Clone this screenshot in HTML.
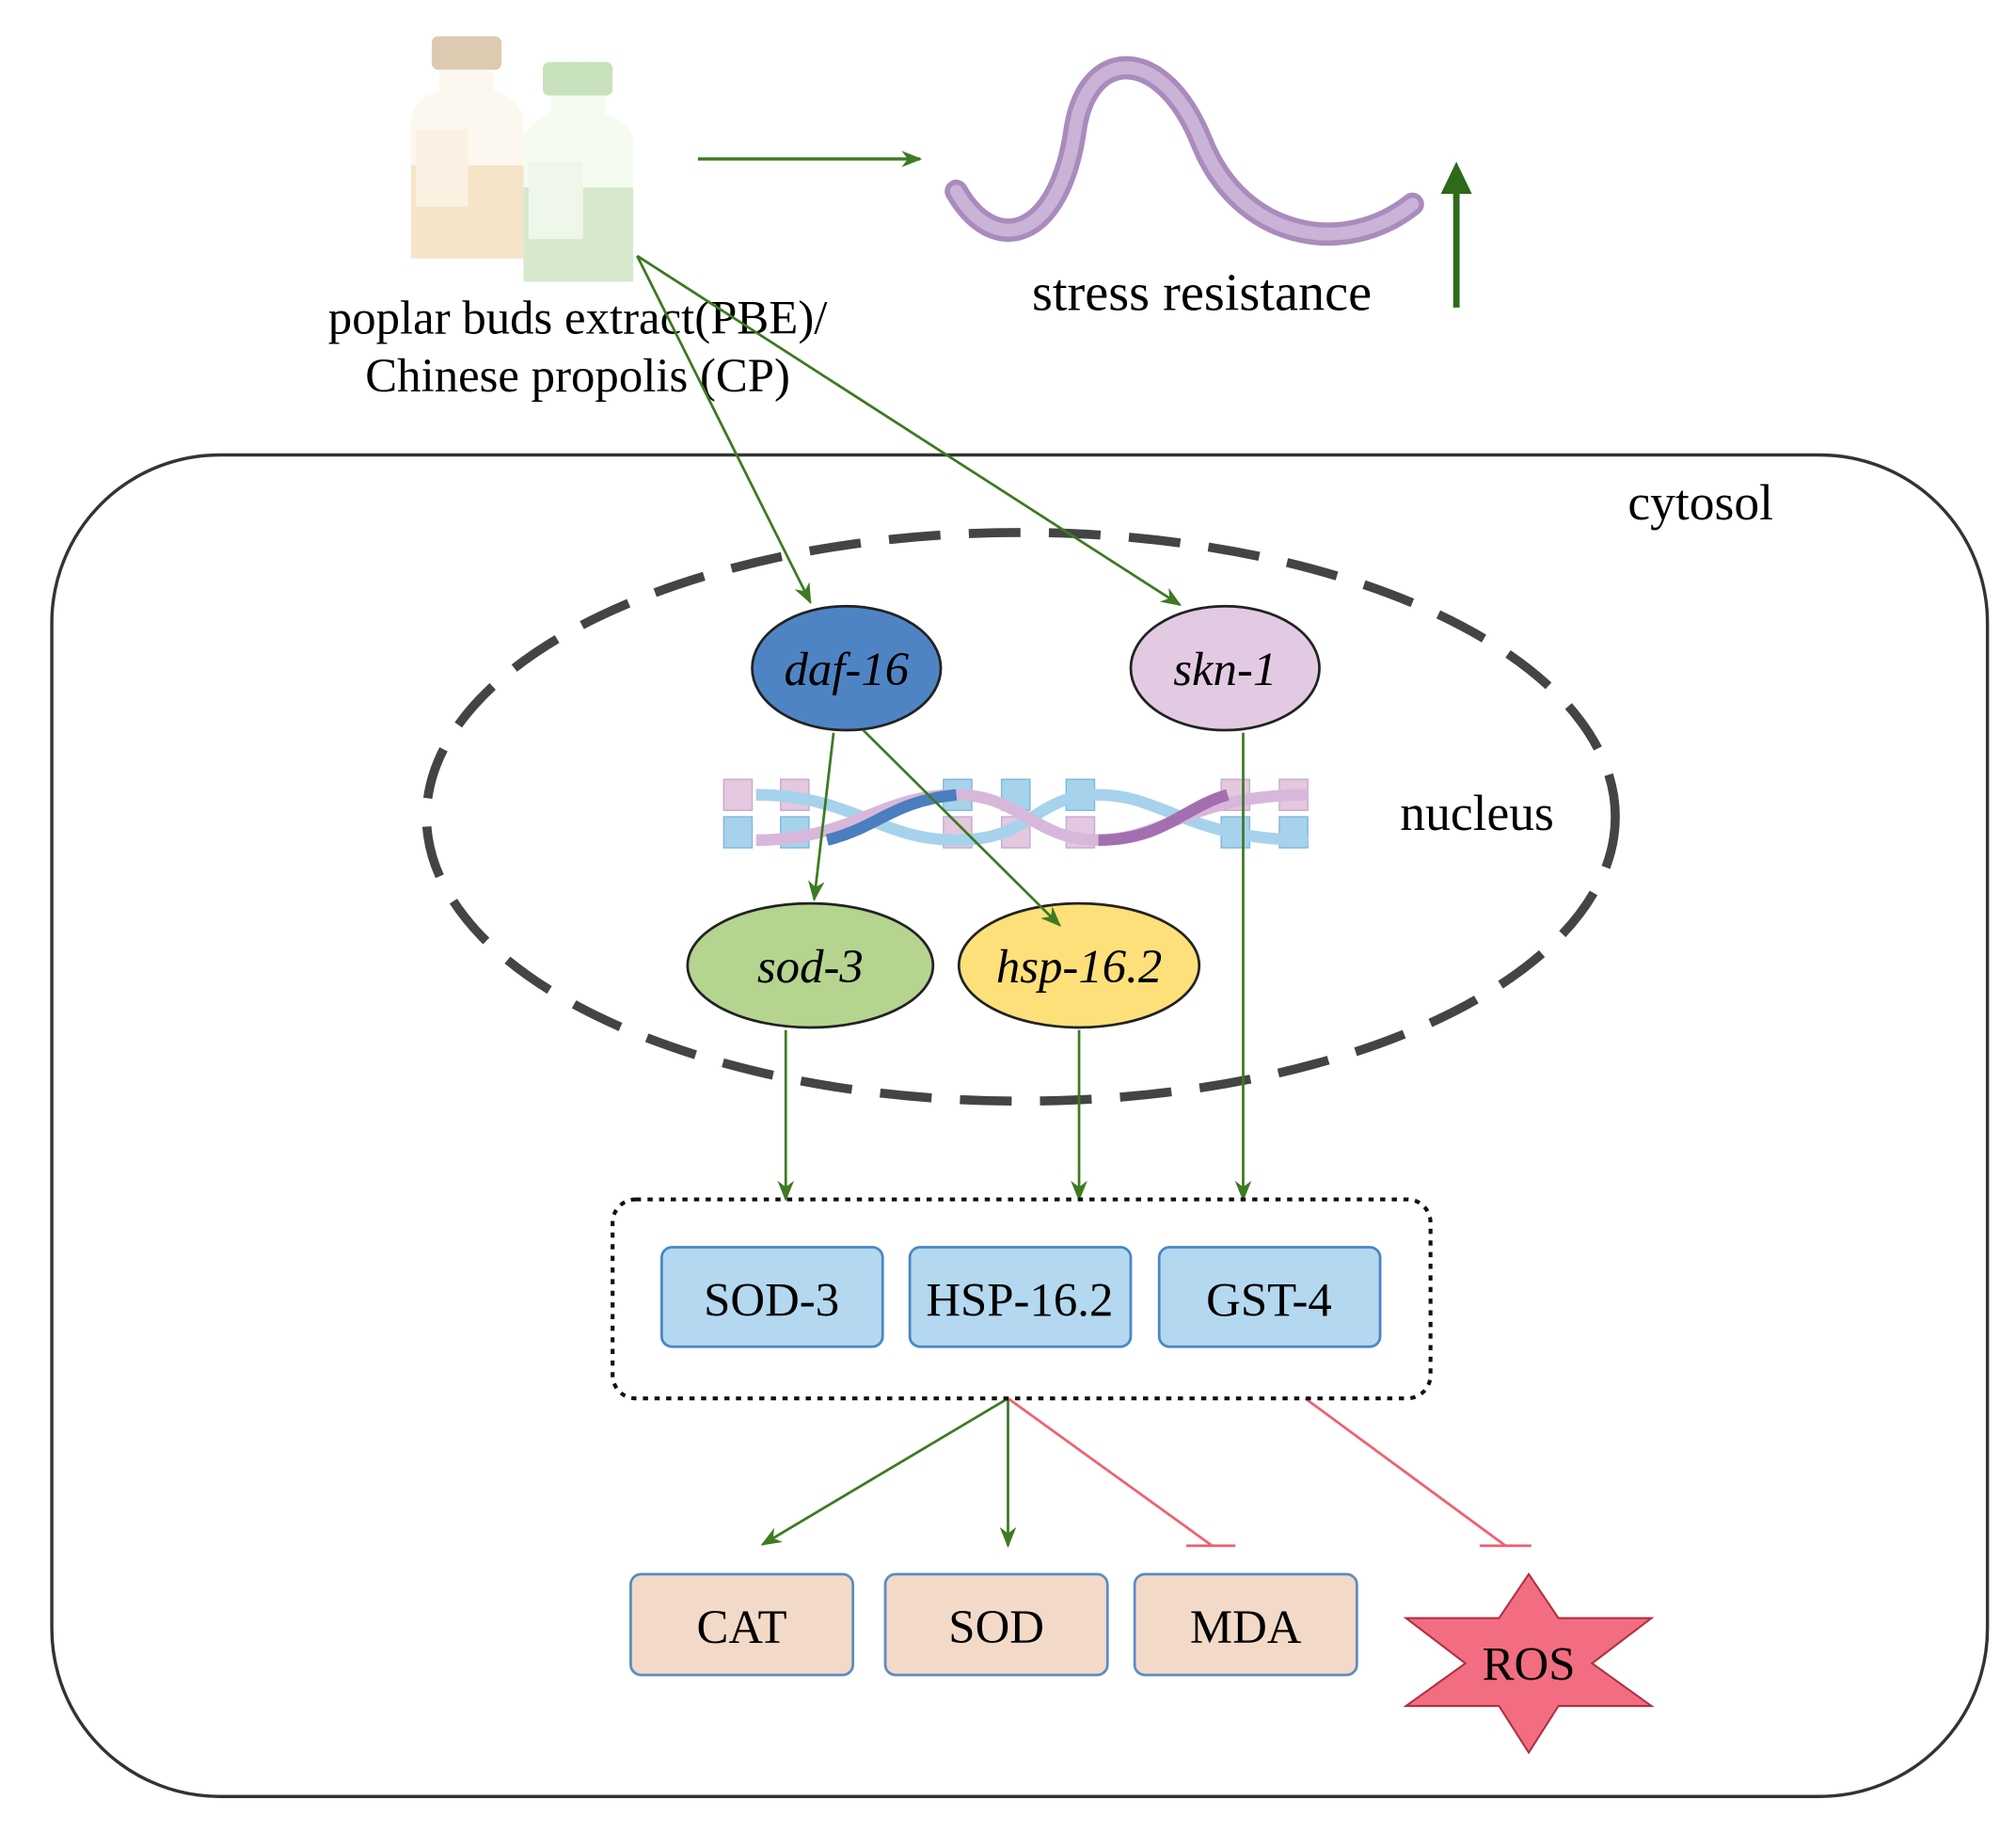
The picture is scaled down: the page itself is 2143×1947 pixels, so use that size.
<!DOCTYPE html>
<html><head><meta charset="utf-8"><style>html,body{margin:0;padding:0;background:#fff}svg{display:block}</style></head>
<body>
<svg width="2143" height="1947" viewBox="0 0 1560 1417.5" xmlns="http://www.w3.org/2000/svg" font-family="Liberation Serif, serif">
<defs>
<marker id="ga" viewBox="0 0 10 10" markerWidth="16" markerHeight="16" refX="9" refY="5" orient="auto" markerUnits="userSpaceOnUse"><path d="M0,1 L10,5 L0,9 L3,5 Z" fill="#3d7a22"/></marker>
</defs>
<g>
<rect x="334" y="28" width="54" height="26" rx="5" fill="#dccbb0"/>
<path d="M340,54 L382,54 L382,70 Q405,78 405,95 L405,195 Q405,200 400,200 L323,200 Q318,200 318,195 L318,95 Q318,78 340,70 Z" fill="#fdf8ef"/>
<rect x="318" y="128" width="87" height="72" fill="#f6e4c9"/>
<rect x="322" y="100" width="40" height="60" fill="#fbf1e2"/>
<rect x="420" y="48" width="54" height="26" rx="5" fill="#c8e2bd"/>
<path d="M426,74 L468,74 L468,88 Q490,96 490,112 L490,213 Q490,218 485,218 L410,218 Q405,218 405,213 L405,112 Q405,96 426,88 Z" fill="#f6fbf2"/>
<rect x="405" y="145" width="85" height="73" fill="#d7e9cd"/>
<rect x="409" y="125" width="42" height="60" fill="#eef7e9"/>
</g>
<text x="447" y="258" font-size="37" text-anchor="middle">poplar buds extract(PBE)/</text>
<text x="447" y="303" font-size="37" text-anchor="middle">Chinese propolis (CP)</text>
<line x1="540" y1="123" x2="712" y2="123" stroke="#3d7a22" stroke-width="2.5" marker-end="url(#ga)"/>
<path d="M740,148 C770,200 820,185 832,100 C842,35 900,35 930,110 C960,185 1040,200 1093,158" fill="none" stroke="#a98bbd" stroke-width="18" stroke-linecap="round"/>
<path d="M740,148 C770,200 820,185 832,100 C842,35 900,35 930,110 C960,185 1040,200 1093,158" fill="none" stroke="#c9b3d6" stroke-width="10" stroke-linecap="round"/>
<text x="930" y="240" font-size="41" text-anchor="middle">stress resistance</text>
<line x1="1127" y1="238" x2="1127" y2="140" stroke="#2d6a1a" stroke-width="5"/>
<path d="M1115,150 L1127,125 L1139,150 Z" fill="#2d6a1a"/>
<rect x="40" y="352" width="1498" height="1038" rx="130" fill="none" stroke="#333" stroke-width="2.5"/>
<text x="1316" y="402" font-size="39" text-anchor="middle">cytosol</text>
<ellipse cx="790" cy="632" rx="460" ry="220" fill="none" stroke="#444" stroke-width="7" stroke-dasharray="40 22"/>
<text x="1143" y="642" font-size="39" text-anchor="middle">nucleus</text>
<g>
<g fill="#e3c8e0" stroke="#c9a8cf"><rect x="560" y="603" width="22" height="24"/><rect x="604" y="603" width="22" height="24"/><rect x="775" y="632" width="22" height="24"/><rect x="825" y="632" width="22" height="24"/><rect x="945" y="603" width="22" height="24"/><rect x="990" y="603" width="22" height="24"/><rect x="730" y="632" width="22" height="24"/></g>
<g fill="#a6d2ec" stroke="#7fb6dc"><rect x="560" y="632" width="22" height="24"/><rect x="604" y="632" width="22" height="24"/><rect x="730" y="603" width="22" height="24"/><rect x="775" y="603" width="22" height="24"/><rect x="825" y="603" width="22" height="24"/><rect x="945" y="632" width="22" height="24"/><rect x="990" y="632" width="22" height="24"/></g>
<path d="M585,615 C660,615 680,650 740,650 C800,650 800,615 850,615 C900,615 920,650 1012,650" fill="none" stroke="#a6d2ec" stroke-width="9"/>
<path d="M585,650 C660,650 680,615 740,615 C790,615 800,650 850,650 C900,650 920,615 1012,615" fill="none" stroke="#d8b8da" stroke-width="9"/>
<path d="M640,650 C680,640 690,620 740,615" fill="none" stroke="#4a7ebf" stroke-width="9"/>
<path d="M850,650 C900,650 915,625 950,615" fill="none" stroke="#a36fb0" stroke-width="9"/>
</g>
<ellipse cx="655" cy="517" rx="73" ry="48" fill="#4f84c4" stroke="#222" stroke-width="2"/>
<text x="655" y="530" font-size="37" font-style="italic" text-anchor="middle">daf-16</text>
<ellipse cx="948" cy="517" rx="73" ry="48" fill="#e3cae3" stroke="#222" stroke-width="2"/>
<text x="948" y="530" font-size="37" font-style="italic" text-anchor="middle">skn-1</text>
<ellipse cx="627" cy="747" rx="95" ry="48" fill="#b5d48f" stroke="#222" stroke-width="2"/>
<text x="627" y="760" font-size="37" font-style="italic" text-anchor="middle">sod-3</text>
<ellipse cx="835" cy="747" rx="93" ry="48" fill="#fde07a" stroke="#222" stroke-width="2"/>
<text x="835" y="760" font-size="37" font-style="italic" text-anchor="middle">hsp-16.2</text>
<g stroke="#3d7a22" stroke-width="2" fill="none">
<line x1="493" y1="198" x2="627" y2="466" marker-end="url(#ga)"/>
<line x1="493" y1="198" x2="913" y2="468" marker-end="url(#ga)"/>
<line x1="645" y1="567" x2="630" y2="696" marker-end="url(#ga)"/>
<line x1="668" y1="565" x2="820" y2="716" marker-end="url(#ga)"/>
<line x1="962" y1="567" x2="962" y2="928" marker-end="url(#ga)"/>
<line x1="608" y1="797" x2="608" y2="928" marker-end="url(#ga)"/>
<line x1="835" y1="797" x2="835" y2="928" marker-end="url(#ga)"/>
<line x1="780" y1="1082" x2="590" y2="1195" marker-end="url(#ga)"/>
<line x1="780" y1="1082" x2="780" y2="1196" marker-end="url(#ga)"/>
</g>
<g stroke="#f06070" stroke-width="2">
<line x1="780" y1="1082" x2="938" y2="1196"/><line x1="918" y1="1196" x2="956" y2="1196"/>
<line x1="1010" y1="1082" x2="1165" y2="1196"/><line x1="1145" y1="1196" x2="1185" y2="1196"/>
</g>
<rect x="474" y="928" width="633" height="154" rx="18" fill="none" stroke="#111" stroke-width="3" stroke-dasharray="4 5"/>
<g fill="#b4d8ef" stroke="#4a86c4" stroke-width="2">
<rect x="512" y="965" width="171" height="77" rx="8"/><rect x="704" y="965" width="171" height="77" rx="8"/><rect x="897" y="965" width="171" height="77" rx="8"/>
</g>
<g font-size="37" text-anchor="middle">
<text x="597" y="1018">SOD-3</text><text x="789" y="1018">HSP-16.2</text><text x="982" y="1018">GST-4</text>
</g>
<g fill="#f3d9c8" stroke="#5b8cc4" stroke-width="2">
<rect x="488" y="1218" width="172" height="78" rx="8"/><rect x="685" y="1218" width="172" height="78" rx="8"/><rect x="878" y="1218" width="172" height="78" rx="8"/>
</g>
<g font-size="37" text-anchor="middle">
<text x="574" y="1271">CAT</text><text x="771" y="1271">SOD</text><text x="964" y="1271">MDA</text>
</g>
<polygon points="1183,1218 1206,1252 1278,1252 1232,1287 1278,1320 1206,1320 1183,1356 1160,1320 1088,1320 1134,1287 1088,1252 1160,1252" fill="#f26d82" stroke="#b03040" stroke-width="1.5"/>
<text x="1183" y="1300" font-size="37" text-anchor="middle">ROS</text>
</svg>
</body></html>
